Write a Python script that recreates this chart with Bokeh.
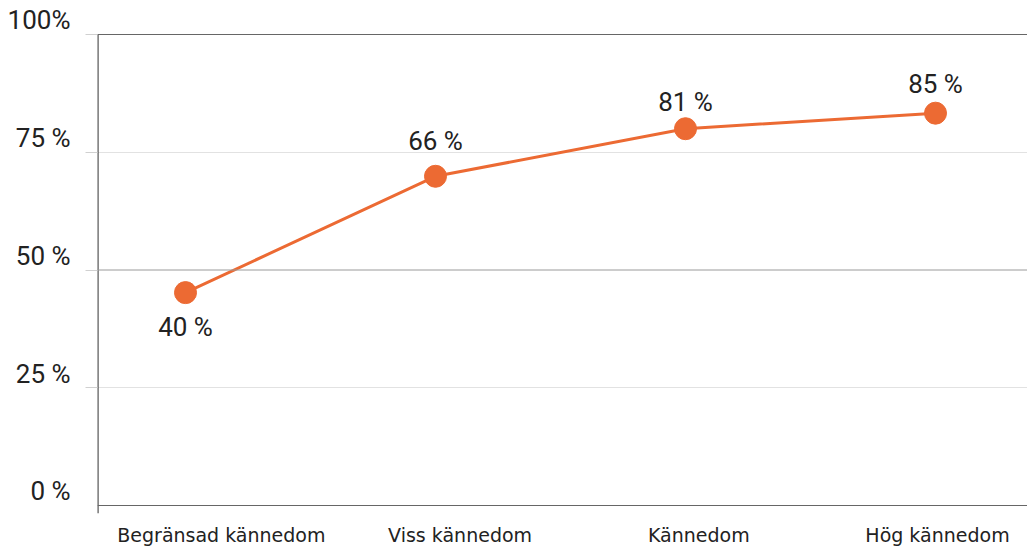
from bokeh.plotting import figure
from bokeh.models import (ColumnDataSource, Range1d, FixedTicker, Span, LinearAxis)
from bokeh.embed import file_html
from bokeh.resources import INLINE
from bokeh.core.properties import value

# ---- data ----
categories = ["Begränsad kännedom", "Viss kännedom", "Kännedom", "Hög kännedom"]
plotted = [45.2, 69.9, 80.0, 83.3]               # marker heights
point_labels = ["40 %", "66 %", "81 %", "85 %"]  # printed data labels
y_ticks = [0, 25, 50, 75, 100]
y_tick_labels = ["0 %", "25 %", "50 %", "75 %", "100%"]

# ---- style ----
ORANGE = "#EC6A33"
TEXT = "#222222"
FONT = "Roboto"
CAT_FONT = "DejaVu Sans"
label_offsets = [34, -35, -27, -29]
LABEL_SHIFT = 3  # y tick labels sit just above their gridline

idx = list(range(len(categories)))
src = ColumnDataSource(dict(x=idx, y=plotted, lab=point_labels, off=label_offsets))

x_start, x_end = -0.352, 3.368
y_start, y_end = -1.7, 105.1

p = figure(width=1027, height=548, output_backend="svg", toolbar_location=None,
           x_range=Range1d(x_start, x_end), y_range=Range1d(y_start, y_end),
           min_border_left=97, min_border_right=0, min_border_top=10, min_border_bottom=35)
p.outline_line_color = None
p.background_fill_color = "white"

# category labels are spaced slightly differently from the markers in the reference
p.extra_x_ranges = {"cat": Range1d(-0.519, 3.377)}

# grid
p.xgrid.visible = False
p.ygrid.ticker = FixedTicker(ticks=[25, 75])
p.ygrid.grid_line_color = "#e2e2e2"
p.ygrid.grid_line_width = 1
p.add_layout(Span(location=50, dimension="width", line_color="#9a9a9a", line_width=1))
p.add_layout(Span(location=100, dimension="width", line_color="#666666", line_width=1.2))
p.add_layout(Span(location=0, dimension="width", line_color="#666666", line_width=1.2))

# left axis line (drawn only up to 100 %)
p.segment(x0=[x_start], y0=[y_start], x1=[x_start], y1=[100],
          line_color="#555555", line_width=2.4)

# inner y axis: only the short outward tick stubs
p.yaxis.ticker = FixedTicker(ticks=[25, 50, 75, 100])
p.yaxis.axis_line_color = None
p.yaxis.major_tick_out = 12
p.yaxis.major_tick_in = 0
p.yaxis.major_tick_line_color = "#d0d0d0"
p.yaxis.minor_tick_line_color = None
p.yaxis.major_label_text_font_size = "0px"
p.yaxis.major_label_text_color = None
p.yaxis.major_label_standoff = 0

# outer y axis: labels placed slightly above the gridlines
lab_axis = LinearAxis(ticker=FixedTicker(ticks=[v + LABEL_SHIFT for v in y_ticks]),
                      major_label_overrides={v + LABEL_SHIFT: t for v, t in zip(y_ticks, y_tick_labels)},
                      axis_line_color=None, major_tick_line_color=None,
                      minor_tick_line_color=None, major_tick_out=0, major_tick_in=0,
                      major_label_standoff=15, major_label_text_font=FONT,
                      major_label_text_font_size="26px", major_label_text_color=TEXT)
p.add_layout(lab_axis, "left")

# x axis: main one hidden, category labels on the extra range
p.xaxis.visible = False
cat_axis = LinearAxis(x_range_name="cat", ticker=FixedTicker(ticks=idx),
                      major_label_overrides={i: c for i, c in zip(idx, categories)},
                      axis_line_color=None, major_tick_line_color=None,
                      minor_tick_line_color=None, major_tick_out=0, major_tick_in=0,
                      major_label_standoff=10, major_label_text_font=CAT_FONT,
                      major_label_text_font_size="19px", major_label_text_color=TEXT)
p.add_layout(cat_axis, "below")

# series
p.line("x", "y", source=src, line_color=ORANGE, line_width=3)
p.scatter("x", "y", source=src, size=22, fill_color=ORANGE, line_color=ORANGE)
p.text("x", "y", text="lab", source=src, y_offset="off", text_align="center",
       text_baseline="middle", text_font=value(FONT), text_font_size="26px",
       text_color=TEXT)

open("out.html", "w").write(file_html(p, INLINE))
